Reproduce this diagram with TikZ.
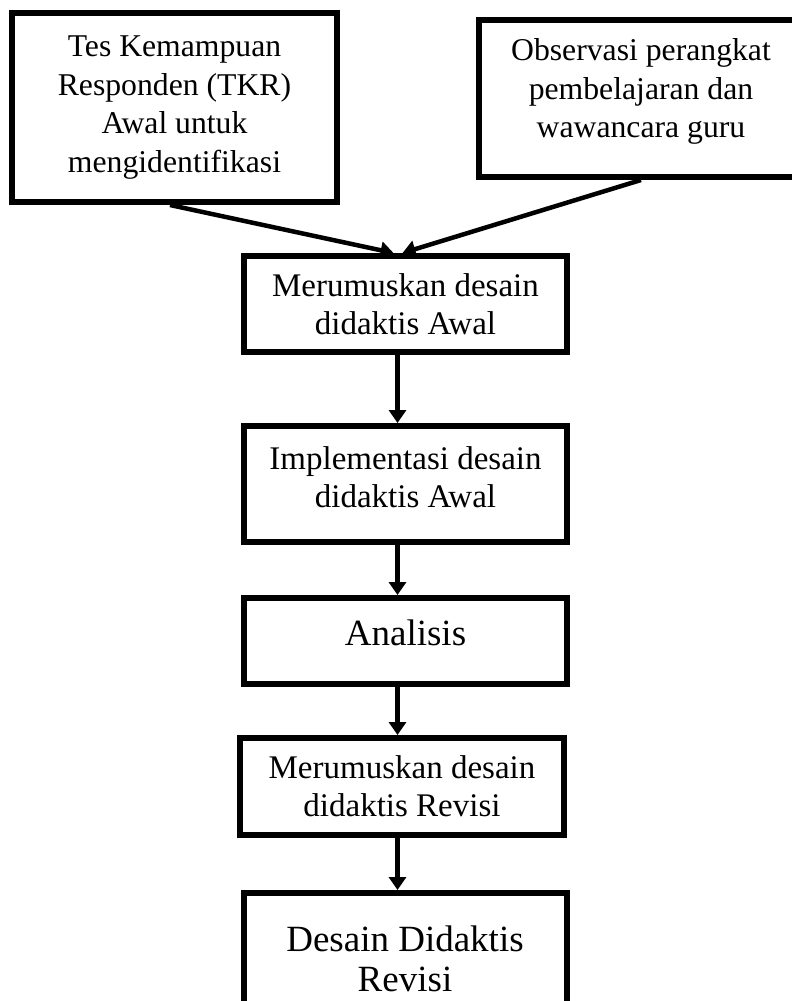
\documentclass[tikz,border=0pt]{standalone}
\usepackage{fontspec}
\setmainfont{Liberation Serif}
\usepackage{tikz}
\usetikzlibrary{positioning,arrows.meta}

\begin{document}
\begin{tikzpicture}[
  x=1pt, y=1pt,
  node distance=50pt,
  box/.style={rectangle, draw, line width=6pt, inner sep=0pt, minimum width=323pt, align=center, font=\fontsize{33}{38}\selectfont},
  topbox/.style={box, minimum width=325pt, font=\fontsize{31.7}{38.5}\selectfont},
  bigbox/.style={box, font=\fontsize{37}{40}\selectfont},
  arr/.style={-{Triangle[length=13pt,width=17pt]}, line width=4.5pt},
]
\clip (0,0) rectangle (792,-1001);

% sumber data awal
\node[topbox, minimum height=189pt] (tkr) at (174.5,-107.5) {Tes Kemampuan\\Responden (TKR)\\Awal untuk\\mengidentifikasi};
\node[topbox, minimum height=157pt, text depth=20pt] (obs) at (641,-98.5) {Observasi perangkat\\pembelajaran dan\\wawancara guru};

% alur desain didaktis
\node[box, minimum height=96pt] (rumus1) at (405.5,-304) {Merumuskan desain\\didaktis Awal};
\node[box, minimum height=116pt, text depth=14pt, below=68pt of rumus1] (impl) {Implementasi desain\\didaktis Awal};
\node[bigbox, minimum height=86pt, text depth=16pt, below=of impl] (anl) {Analisis};
\node[box, minimum width=324pt, minimum height=97pt, below=48pt of anl, xshift=-3.5pt] (rumus2) {Merumuskan desain\\didaktis Revisi};
\node[bigbox, minimum height=132pt, below=52pt of rumus2, xshift=3pt] (hasil) {Desain Didaktis\\Revisi};

\draw[arr] ([xshift=-4.5pt]tkr.south) -- ([xshift=-12pt]rumus1.north);
\draw[arr] (obs.south) -- ([xshift=-3pt]rumus1.north);
\draw[arr] ([xshift=-8pt]rumus1.south) -- ([xshift=-8pt]impl.north);
\draw[arr] ([xshift=-8pt]impl.south) -- ([xshift=-8pt]anl.north);
\draw[arr] ([xshift=-8pt]anl.south) -- ([xshift=-4.5pt]rumus2.north);
\draw[arr] ([xshift=-4.5pt]rumus2.south) -- ([xshift=-7.5pt]hasil.north);
\end{tikzpicture}
\end{document}
